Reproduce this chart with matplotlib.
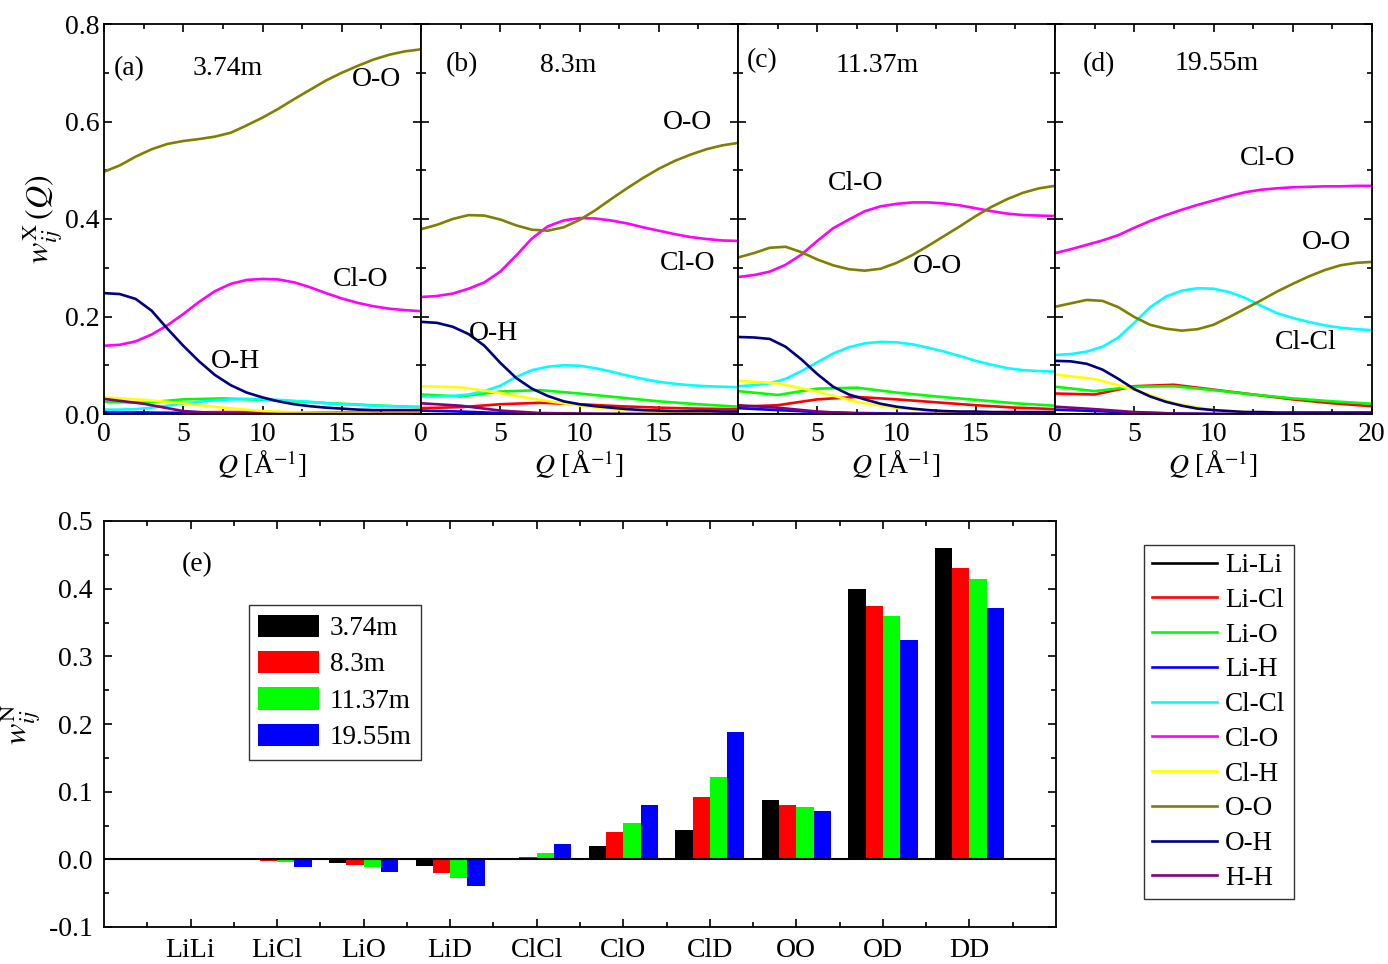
import numpy as np
import matplotlib
matplotlib.use("Agg")
import matplotlib.pyplot as plt
from matplotlib.ticker import MultipleLocator

plt.rcParams['font.family'] = ['Liberation Serif', 'DejaVu Serif']
plt.rcParams['mathtext.fontset'] = 'stix'
plt.rcParams['font.size'] = 20

# pares atomicos y colores (orden de la leyenda)
pares = ['Li-Li', 'Li-Cl', 'Li-O', 'Li-H', 'Cl-Cl', 'Cl-O', 'Cl-H', 'O-O', 'O-H', 'H-H']
colores = ['#000000', '#FF0000', '#00FF00', '#0000FF', '#00FFFF',
           '#FF00FF', '#FFFF00', '#808000', '#000080', '#800080']
concentraciones = ['3.74m', '8.3m', '11.37m', '19.55m']

# grillas de Q
q_fino = list(range(0, 21))
q_grueso = [0, 2.5, 5, 7.5, 10, 12.5, 15, 17.5, 20]

# ---- panel (a) 3.74m ----
oo_a = [0.497, 0.510, 0.528, 0.543, 0.554, 0.560, 0.564, 0.569, 0.577, 0.592, 0.608,
        0.626, 0.646, 0.665, 0.684, 0.700, 0.714, 0.727, 0.737, 0.744, 0.748]
clo_a = [0.140, 0.142, 0.149, 0.163, 0.182, 0.205, 0.230, 0.252, 0.267, 0.275, 0.277,
         0.276, 0.270, 0.260, 0.248, 0.237, 0.228, 0.221, 0.216, 0.213, 0.211]
oh_a = [0.248, 0.246, 0.236, 0.212, 0.175, 0.140, 0.108, 0.080, 0.059, 0.044, 0.034,
        0.026, 0.020, 0.016, 0.013, 0.011, 0.009, 0.008, 0.008, 0.008, 0.008]
clcl_a = [0.009, 0.009, 0.010, 0.013, 0.017, 0.021, 0.025, 0.028, 0.030, 0.031, 0.030,
          0.029, 0.027, 0.025, 0.022, 0.020, 0.019, 0.017, 0.016, 0.015, 0.015]
lili_a = [0, 0, 0, 0, 0, 0, 0, 0, 0]
licl_a = [0.002, 0.002, 0.003, 0.004, 0.004, 0.003, 0.003, 0.002, 0.002]
lio_a = [0.025, 0.023, 0.030, 0.032, 0.029, 0.025, 0.021, 0.017, 0.014]
lih_a = [0.004, 0.003, 0.001, 0.0, 0, 0, 0, 0, 0]
clh_a = [0.034, 0.029, 0.022, 0.013, 0.006, 0.003, 0.002, 0.001, 0.001]
hh_a = [0.031, 0.021, 0.006, 0.001, 0, 0, 0, 0, 0]

# ---- panel (b) 8.3m ----
oo_b = [0.379, 0.388, 0.400, 0.408, 0.407, 0.399, 0.387, 0.378, 0.376, 0.383, 0.398,
        0.418, 0.441, 0.463, 0.484, 0.503, 0.519, 0.532, 0.543, 0.551, 0.556]
clo_b = [0.240, 0.242, 0.247, 0.257, 0.270, 0.292, 0.325, 0.360, 0.385, 0.397, 0.402,
         0.401, 0.397, 0.391, 0.383, 0.376, 0.369, 0.363, 0.359, 0.356, 0.355]
oh_b = [0.189, 0.187, 0.179, 0.164, 0.140, 0.105, 0.074, 0.052, 0.037, 0.026, 0.020,
        0.016, 0.013, 0.010, 0.008, 0.007, 0.006, 0.006, 0.006, 0.005, 0.005]
clcl_b = [0.036, 0.036, 0.037, 0.040, 0.047, 0.058, 0.076, 0.090, 0.097, 0.100, 0.099,
          0.094, 0.087, 0.079, 0.072, 0.066, 0.062, 0.059, 0.057, 0.056, 0.055]
lili_b = [0, 0, 0, 0, 0, 0, 0, 0, 0]
licl_b = [0.012, 0.014, 0.020, 0.023, 0.020, 0.016, 0.013, 0.011, 0.010]
lio_b = [0.040, 0.036, 0.046, 0.049, 0.042, 0.034, 0.026, 0.020, 0.015]
lih_b = [0.007, 0.005, 0.002, 0.001, 0, 0, 0, 0, 0]
clh_b = [0.057, 0.055, 0.043, 0.029, 0.017, 0.008, 0.004, 0.003, 0.002]
hh_b = [0.022, 0.017, 0.007, 0.002, 0.001, 0, 0, 0, 0]

# ---- panel (c) 11.37m ----
oo_c = [0.321, 0.330, 0.341, 0.343, 0.332, 0.317, 0.305, 0.297, 0.294, 0.298, 0.310,
        0.326, 0.345, 0.365, 0.385, 0.406, 0.425, 0.441, 0.454, 0.463, 0.468]
clo_c = [0.281, 0.285, 0.292, 0.306, 0.327, 0.355, 0.381, 0.399, 0.416, 0.426, 0.431,
         0.434, 0.434, 0.432, 0.428, 0.422, 0.416, 0.411, 0.408, 0.407, 0.406]
oh_c = [0.158, 0.157, 0.154, 0.138, 0.112, 0.082, 0.056, 0.040, 0.030, 0.021, 0.015,
        0.011, 0.008, 0.006, 0.005, 0.005, 0.004, 0.004, 0.004, 0.004, 0.004]
clcl_c = [0.057, 0.059, 0.063, 0.072, 0.088, 0.106, 0.124, 0.137, 0.145, 0.148, 0.147,
          0.143, 0.136, 0.128, 0.119, 0.109, 0.101, 0.094, 0.090, 0.088, 0.087]
lili_c = [0, 0, 0, 0, 0, 0, 0, 0, 0]
licl_c = [0.015, 0.018, 0.030, 0.035, 0.030, 0.024, 0.018, 0.013, 0.010]
lio_c = [0.047, 0.039, 0.052, 0.054, 0.044, 0.036, 0.029, 0.022, 0.017]
lih_c = [0.012, 0.008, 0.004, 0.002, 0.001, 0, 0, 0, 0]
clh_c = [0.068, 0.063, 0.046, 0.025, 0.012, 0.006, 0.003, 0.002, 0.002]
hh_c = [0.018, 0.013, 0.005, 0.001, 0, 0, 0, 0, 0]

# ---- panel (d) 19.55m ----
oo_d = [0.220, 0.227, 0.234, 0.232, 0.219, 0.199, 0.183, 0.175, 0.171, 0.174, 0.183,
        0.199, 0.216, 0.233, 0.251, 0.267, 0.282, 0.295, 0.305, 0.310, 0.312]
clo_d = [0.330, 0.338, 0.347, 0.356, 0.367, 0.382, 0.396, 0.408, 0.419, 0.429, 0.438,
         0.447, 0.455, 0.460, 0.463, 0.465, 0.466, 0.467, 0.467, 0.468, 0.468]
oh_d = [0.109, 0.108, 0.103, 0.091, 0.072, 0.051, 0.036, 0.025, 0.017, 0.011, 0.008,
        0.006, 0.004, 0.004, 0.003, 0.003, 0.003, 0.003, 0.003, 0.003, 0.003]
clcl_d = [0.121, 0.123, 0.128, 0.138, 0.157, 0.187, 0.219, 0.241, 0.253, 0.258, 0.257,
          0.250, 0.238, 0.222, 0.207, 0.197, 0.189, 0.182, 0.177, 0.174, 0.172]
lili_d = [0, 0, 0, 0, 0, 0, 0, 0, 0]
licl_d = [0.042, 0.040, 0.057, 0.060, 0.050, 0.040, 0.030, 0.022, 0.016]
lio_d = [0.056, 0.047, 0.056, 0.057, 0.049, 0.040, 0.032, 0.026, 0.021]
lih_d = [0.009, 0.006, 0.003, 0.001, 0, 0, 0, 0, 0]
clh_d = [0.081, 0.072, 0.050, 0.022, 0.008, 0.003, 0.002, 0.001, 0.001]
hh_d = [0.015, 0.010, 0.004, 0.001, 0, 0, 0, 0, 0]

# ---- barras (e) ----
categorias = ['LiLi', 'LiCl', 'LiO', 'LiD', 'ClCl', 'ClO', 'ClD', 'OO', 'OD', 'DD']
bar_374 = [0.000, -0.001, -0.005, -0.010, 0.001, 0.019, 0.044, 0.087, 0.400, 0.460]
bar_83 = [0.000, -0.003, -0.009, -0.020, 0.004, 0.040, 0.092, 0.081, 0.375, 0.431]
bar_1137 = [0.000, -0.004, -0.012, -0.027, 0.009, 0.053, 0.121, 0.078, 0.360, 0.414]
bar_1955 = [0.001, -0.011, -0.018, -0.039, 0.023, 0.081, 0.188, 0.071, 0.324, 0.372]
colores_barras = ['#000000', '#FF0000', '#00FF00', '#0000FF']

paneles = [
    (lili_a, licl_a, lio_a, lih_a, clcl_a, clo_a, clh_a, oo_a, oh_a, hh_a),
    (lili_b, licl_b, lio_b, lih_b, clcl_b, clo_b, clh_b, oo_b, oh_b, hh_b),
    (lili_c, licl_c, lio_c, lih_c, clcl_c, clo_c, clh_c, oo_c, oh_c, hh_c),
    (lili_d, licl_d, lio_d, lih_d, clcl_d, clo_d, clh_d, oo_d, oh_d, hh_d),
]
finos = {'Cl-Cl', 'Cl-O', 'O-O', 'O-H'}

# etiquetas dentro de cada panel: (texto, Q, w)
etiquetas = [
    [('(a)', 1.6, 0.708), ('3.74m', 7.8, 0.708), ('O-O', 17.2, 0.686),
     ('Cl-O', 16.2, 0.275), ('O-H', 8.3, 0.108)],
    [('(b)', 2.6, 0.716), ('8.3m', 9.3, 0.714), ('O-O', 16.8, 0.597),
     ('Cl-O', 16.8, 0.308), ('O-H', 4.6, 0.166)],
    [('(c)', 1.5, 0.724), ('11.37m', 8.8, 0.714), ('Cl-O', 7.4, 0.472),
     ('O-O', 12.6, 0.302)],
    [('(d)', 2.8, 0.716), ('19.55m', 10.2, 0.718), ('Cl-O', 13.4, 0.525),
     ('O-O', 17.1, 0.351), ('Cl-Cl', 15.8, 0.146)],
]

W, H = 1388, 964
fig = plt.figure(figsize=(W / 100, H / 100), dpi=100)

def estilo_ticks(ax):
    ax.tick_params(which='both', direction='in', top=True, right=True, width=1.2)
    ax.tick_params(which='major', length=6)
    ax.tick_params(which='minor', length=3.5)
    for s in ax.spines.values():
        s.set_linewidth(1.3)

ejes = []
for i in range(4):
    ax = fig.add_axes([(104 + 317 * i) / W, 1 - 414 / H, 317 / W, 390 / H])
    datos = paneles[i]
    for nombre, col, y in zip(pares, colores, datos):
        xq = q_fino if nombre in finos else q_grueso
        ax.plot(xq, y, color=col, lw=1.9, label=nombre)
    ax.set_xlim(0, 20)
    ax.set_ylim(0, 0.8)
    ax.set_xticks([0, 5, 10, 15, 20])
    if i < 3:
        ax.set_xticklabels(['0', '5', '10', '15', ''])
    ax.xaxis.set_minor_locator(MultipleLocator(2.5))
    ax.set_yticks([0, 0.2, 0.4, 0.6, 0.8])
    ax.yaxis.set_minor_locator(MultipleLocator(0.1))
    if i == 0:
        ax.set_yticklabels(['0.0', '0.2', '0.4', '0.6', '0.8'])
        ax.set_ylabel(r'$w^{\rm X}_{ij}\,(Q)$', fontsize=23, labelpad=0)
    else:
        ax.set_yticklabels([])
    ax.set_xlabel(r'$Q$ [Å$^{-1}$]', labelpad=1)
    estilo_ticks(ax)
    ax.tick_params(axis='x', which='major', pad=6)
    ax.tick_params(axis='y', which='major', pad=3)
    for txt, xq, yv in etiquetas[i]:
        ax.text(xq, yv, txt, ha='center', va='center', fontsize=20)
    ejes.append(ax)

# leyenda de pares
h, l = ejes[0].get_legend_handles_labels()
fig.legend(h, l, loc='upper left', bbox_to_anchor=(1144 / W, 1 - 545 / H),
           frameon=True, fancybox=False, edgecolor='black', fontsize=19.5,
           handlelength=2.4, labelspacing=0.36, handletextpad=0.3,
           borderpad=0.3, borderaxespad=0)

# ---- panel (e) ----
axe = fig.add_axes([104 / W, 1 - 927 / H, 952 / W, 406 / H])
x = np.arange(1, len(categorias) + 1)
ancho = 0.2
for k, (vals, col, lab) in enumerate(zip([bar_374, bar_83, bar_1137, bar_1955],
                                         colores_barras, concentraciones)):
    axe.bar(x + (k - 1.5) * ancho, vals, width=ancho, color=col, label=lab)
axe.axhline(0, color='black', lw=1.5)
axe.set_xlim(0, 11)
axe.set_ylim(-0.1, 0.5)
axe.set_xticks(x)
axe.set_xticklabels(categorias)
axe.set_xticks(np.arange(0.5, 11, 1.0), minor=True)
axe.set_yticks(np.arange(-0.1, 0.51, 0.1))
axe.set_yticklabels(['-0.1', '0.0', '0.1', '0.2', '0.3', '0.4', '0.5'])
axe.yaxis.set_minor_locator(MultipleLocator(0.05))
axe.set_ylabel(r'$w^{\rm N}_{ij}$', fontsize=23, labelpad=4)
estilo_ticks(axe)
axe.tick_params(axis='x', which='major', pad=8)
axe.tick_params(axis='y', which='major', pad=8)
axe.text(1.08, 0.436, '(e)', ha='center', va='center', fontsize=20)
axe.legend(loc='upper left', bbox_to_anchor=(0.152, 0.793), frameon=True,
           fancybox=False, edgecolor='black', fontsize=19.5, handlelength=2.25,
           handleheight=0.9, labelspacing=0.36, handletextpad=0.4,
           borderpad=0.35, borderaxespad=0)

fig.savefig('out.png', dpi=100)
